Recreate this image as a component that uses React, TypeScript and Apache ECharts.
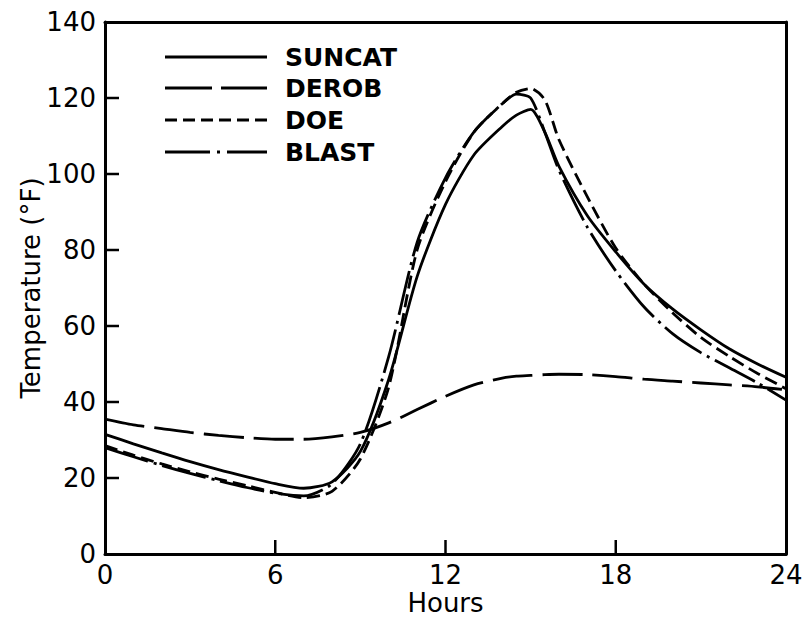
import React, { useEffect, useRef } from "react";
import * as echarts from "echarts";

const hours = [0, 1, 2, 3, 4, 5, 6, 7, 8, 9, 10, 11, 12, 13, 14, 14.5, 15, 15.5, 16, 17, 18, 19, 20, 21, 22, 23, 24];
const suncat = [31.5, 29, 26.6, 24.3, 22.2, 20.3, 18.5, 17.3, 19, 27, 46, 73, 92, 105, 112.5, 115.5, 117, 111, 102, 89, 79.5, 71, 64.5, 59, 54, 50, 46.5];
const derob = [35.5, 34, 33, 32, 31.2, 30.6, 30.2, 30.2, 30.8, 32, 34.5, 38, 41.5, 44.5, 46.3, 46.8, 47, 47.2, 47.3, 47.2, 46.7, 46, 45.5, 45, 44.5, 44, 43.2];
const doe = [28.5, 26, 23.7, 21.6, 19.7, 18, 16.2, 14.8, 16.5, 25, 44, 80, 98, 111, 118.5, 121.5, 122.5, 119.5, 109, 94, 80.5, 71, 63.5, 57, 52, 47.5, 43.5];
const blast = [28, 25.6, 23.3, 21.2, 19.3, 17.5, 16, 15.3, 18.5, 29, 52, 82, 99, 111, 118.5, 121, 120, 111, 101, 86, 74.5, 65, 58, 53, 49, 45, 40.5];

const seriesNames = ["SUNCAT", "DEROB", "DOE", "BLAST"];
const xTicks = [0, 6, 12, 18, 24];
const yTicks = [0, 20, 40, 60, 80, 100, 120, 140];

const FONT = "DejaVu Sans";
const TICK_LEN = 14;

export default function App() {
  const ref = useRef<HTMLDivElement>(null);
  useEffect(() => {
    if (!ref.current) return;
    const chart = echarts.init(ref.current, undefined, { renderer: "svg" });
    const pairs = (vals: number[]) => hours.map((h, i) => [h, vals[i]]);
    const dashes: (string | number[])[] = ["solid", [40, 10], [13, 6], [45, 6, 3, 6]];
    const legendDash: (number[] | null)[] = [null, [47, 9], [12, 6], [45, 7, 3, 7]];
    const values = [suncat, derob, doe, blast];
    const legendRowsY = [57, 88, 120, 152];
    const graphics: any[] = [];
    seriesNames.forEach((name, i) => {
      graphics.push({
        type: "line",
        shape: { x1: 165, y1: legendRowsY[i], x2: 267, y2: legendRowsY[i] },
        style: { stroke: "#000", lineWidth: 3, lineDash: legendDash[i] || undefined },
      });
      graphics.push({
        type: "text",
        x: 285,
        y: legendRowsY[i],
        style: {
          text: name,
          fontFamily: FONT,
          fontSize: 25,
          fontWeight: "bold",
          fill: "#000",
          verticalAlign: "middle",
          align: "left",
        },
      });
    });
    const xMin = xTicks[0];
    const xMax = xTicks[xTicks.length - 1];
    const yMin = yTicks[0];
    const yMax = yTicks[yTicks.length - 1];
    const axisLineStyle = { show: true, onZero: false, lineStyle: { color: "#000", width: 3 } };
    chart.setOption({
      animation: false,
      backgroundColor: "#fff",
      grid: {
        left: 105,
        right: 17,
        top: 22,
        bottom: 68,
        show: false,
        outerBoundsMode: "none",
        containLabel: false,
      },
      xAxis: [
        {
          type: "value",
          position: "bottom",
          min: xMin,
          max: xMax,
          interval: xTicks[1] - xTicks[0],
          name: "Hours",
          nameLocation: "middle",
          nameGap: 36,
          nameMoveOverlap: false,
          nameTextStyle: { fontFamily: FONT, fontSize: 26, color: "#000" },
          axisLine: axisLineStyle,
          axisTick: { show: false },
          axisLabel: { fontFamily: FONT, fontSize: 26, color: "#000", margin: 8 },
          splitLine: { show: false },
        },
        {
          type: "value",
          position: "top",
          min: xMin,
          max: xMax,
          axisLine: axisLineStyle,
          axisTick: { show: false },
          axisLabel: { show: false },
          splitLine: { show: false },
        },
      ],
      yAxis: [
        {
          type: "value",
          position: "left",
          min: yMin,
          max: yMax,
          interval: yTicks[1] - yTicks[0],
          name: "Temperature (°F)",
          nameLocation: "middle",
          nameGap: 61,
          nameMoveOverlap: false,
          nameTextStyle: { fontFamily: FONT, fontSize: 26, color: "#000" },
          axisLine: axisLineStyle,
          axisTick: { show: false },
          axisLabel: { fontFamily: FONT, fontSize: 26, color: "#000", margin: 9 },
          splitLine: { show: false },
        },
        {
          type: "value",
          position: "right",
          min: yMin,
          max: yMax,
          axisLine: axisLineStyle,
          axisTick: { show: false },
          axisLabel: { show: false },
          splitLine: { show: false },
        },
      ],
      series: seriesNames.map((name, i) => ({
        name,
        type: "line",
        data: pairs(values[i]),
        showSymbol: false,
        symbol: "none",
        smooth: 0.25,
        lineStyle: { color: "#000", width: 2.8, type: dashes[i] },
        itemStyle: { color: "#000" },
      })),
    });

    // Inward tick marks, positioned through the chart's own scales.
    yTicks.slice(1, -1).forEach((v) => {
      const p = chart.convertToPixel({ xAxisIndex: 0, yAxisIndex: 0 }, [xMin, v]) as number[];
      if (p && isFinite(p[0]) && isFinite(p[1])) {
        graphics.push({
          type: "line",
          z: 10,
          shape: { x1: p[0], y1: p[1], x2: p[0] + TICK_LEN, y2: p[1] },
          style: { stroke: "#000", lineWidth: 2.5 },
        });
      }
    });
    xTicks.slice(1, -1).forEach((v) => {
      const p = chart.convertToPixel({ xAxisIndex: 0, yAxisIndex: 0 }, [v, yMin]) as number[];
      if (p && isFinite(p[0]) && isFinite(p[1])) {
        graphics.push({
          type: "line",
          z: 10,
          shape: { x1: p[0], y1: p[1], x2: p[0], y2: p[1] - TICK_LEN },
          style: { stroke: "#000", lineWidth: 2.5 },
        });
      }
    });
    chart.setOption({ graphic: graphics });
    return () => chart.dispose();
  }, []);
  return <div ref={ref} style={{ width: 803, height: 622, position: "absolute", left: 0, top: 0 }} />;
}
